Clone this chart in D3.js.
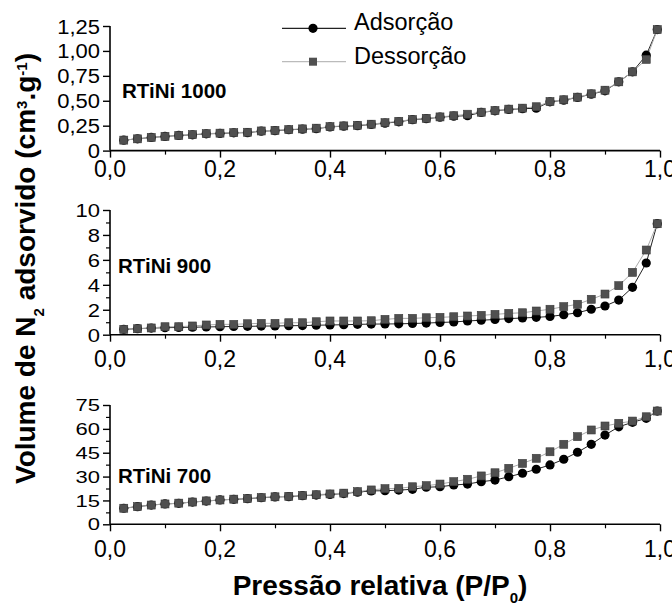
<!DOCTYPE html>
<html><head><meta charset="utf-8">
<script src="https://cdn.jsdelivr.net/npm/d3@7"></script>
<style>body{margin:0;background:#fff}svg{display:block}</style>
</head><body><div id="chart"></div>
<script>
// ---- data ----
const pressure = [0.025,0.05,0.075,0.1,0.125,0.15,0.175,0.2,0.225,0.25,
  0.275,0.3,0.325,0.35,0.375,0.4,0.425,0.45,0.475,0.5,
  0.525,0.55,0.575,0.6,0.625,0.65,0.675,0.7,0.725,0.75,
  0.775,0.8,0.825,0.85,0.875,0.9,0.925,0.95,0.975,0.995];
const ads1000 = [0.105,0.118,0.132,0.142,0.152,0.158,0.168,0.172,0.178,0.180,
  0.195,0.200,0.209,0.215,0.220,0.238,0.245,0.250,0.262,0.275,
  0.289,0.310,0.320,0.335,0.345,0.350,0.383,0.399,0.413,0.420,
  0.425,0.489,0.506,0.533,0.566,0.600,0.690,0.790,0.957,1.214];
const des1000 = [0.105,0.118,0.132,0.142,0.152,0.160,0.170,0.175,0.180,0.184,
  0.197,0.203,0.211,0.218,0.225,0.240,0.248,0.254,0.265,0.280,
  0.294,0.312,0.324,0.338,0.350,0.365,0.385,0.402,0.416,0.426,
  0.440,0.492,0.510,0.536,0.570,0.606,0.690,0.790,0.915,1.214];
const ads900 = [0.43,0.48,0.53,0.56,0.58,0.60,0.62,0.64,0.66,0.67,
  0.69,0.70,0.72,0.73,0.76,0.78,0.80,0.83,0.85,0.86,
  0.87,0.90,0.93,0.98,1.02,1.10,1.16,1.22,1.29,1.34,
  1.39,1.46,1.60,1.76,2.04,2.30,2.78,3.80,5.75,8.90];
const des900 = [0.43,0.48,0.54,0.64,0.64,0.70,0.78,0.83,0.83,0.88,
  0.91,0.91,0.96,0.96,1.04,1.10,1.10,1.10,1.12,1.23,
  1.31,1.31,1.36,1.39,1.44,1.50,1.55,1.63,1.71,1.76,
  1.90,2.04,2.25,2.44,2.84,3.26,3.93,5.00,6.79,8.90];
const ads700 = [10.1,11.1,12.1,12.8,13.2,14.0,14.6,15.3,15.7,16.1,
  16.7,17.2,17.4,18.0,18.4,18.8,19.3,20.2,21.0,21.1,
  21.5,22.0,23.3,23.6,24.7,25.3,26.8,27.8,29.9,32.1,
  34.6,37.3,40.9,45.3,50.3,56.1,61.3,64.1,66.6,71.2];
const des700 = [10.1,11.1,12.1,12.8,13.3,14.0,14.7,15.3,15.8,16.2,
  16.8,17.3,17.6,18.1,18.6,19.1,19.6,20.5,21.6,22.4,
  22.6,23.6,24.3,25.3,26.8,28.3,30.4,32.4,35.2,38.3,
  41.5,45.6,50.3,55.1,59.3,61.8,63.5,64.9,67.6,71.2];
const samples = ["RTiNi 1000","RTiNi 900","RTiNi 700"];
const seriesNames = ["Adsorção","Dessorção"];
const xTicks = [0,0.2,0.4,0.6,0.8,1.0];
const xMinorTicks = [0.1,0.3,0.5,0.7,0.9];
const yTicks1000 = [0,0.25,0.5,0.75,1.0,1.25];
const yTicks900 = [0,2,4,6,8,10];
const yMinor900 = [1,3,5,7,9];
const yTicks700 = [0,15,30,45,60,75];
const yMinor700 = [7.5,22.5,37.5,52.5,67.5];

// ---- layout ----
const W = 672, H = 604;
const FONT = "'Liberation Sans', Arial, sans-serif";
const svg = d3.select("#chart").append("svg").attr("width", W).attr("height", H)
  .style("font-family", FONT);
const x = d3.scaleLinear().domain([0,1]).range([110,660]);
const fmtX = v => d3.format(".1f")(v).replace(".", ",");
const fmt2 = v => v === 0 ? "0" : d3.format(".2f")(v).replace(".", ",");
const fmt0 = v => String(v);

const panels = [
  {name: samples[0], ads: ads1000, des: des1000, top: 26, bottom: 150.6, max: 1.25,
   ticks: yTicks1000, minor: [], fmt: fmt2, xLabY: 177, sy: 0.95, lab: [122, 98]},
  {name: samples[1], ads: ads900, des: des900, top: 210, bottom: 334.7, max: 10,
   ticks: yTicks900, minor: yMinor900, fmt: fmt0, xLabY: 366.5, sy: 0.86, lab: [118, 273]},
  {name: samples[2], ads: ads700, des: des700, top: 405, bottom: 524.3, max: 75,
   ticks: yTicks700, minor: yMinor700, fmt: fmt0, xLabY: 557, sy: 0.78, lab: [118, 483]}
];

const sqSize = 8, cr = 4.6;
const adsColor = "#000", desColor = "#505050";

panels.forEach(p => {
  const y = d3.scaleLinear().domain([0, p.max]).range([p.bottom, p.top]);
  const g = svg.append("g");
  // x axis
  const xa = g.append("g").attr("transform", `translate(0,${p.bottom})`)
    .call(d3.axisBottom(x).tickValues(xTicks).tickSize(7).tickFormat(""));
  xa.select(".domain").attr("stroke-width", 1.6).attr("d", `M110,0H660`);
  xa.selectAll(".tick line").attr("stroke-width", 1.4);
  g.append("g").attr("transform", `translate(0,${p.bottom})`)
    .call(d3.axisBottom(x).tickValues(xMinorTicks).tickSize(4).tickFormat(""))
    .call(s => s.select(".domain").remove())
    .selectAll(".tick line").attr("stroke-width", 1.2);
  g.selectAll(".xl").data(xTicks).join("text")
    .attr("x", d => x(d)).attr("y", p.xLabY)
    .attr("text-anchor", "middle").attr("font-size", 23).attr("fill", "#000")
    .text(fmtX);
  // y axis
  const ya = g.append("g").attr("transform", `translate(110,0)`)
    .call(d3.axisLeft(y).tickValues(p.ticks).tickSize(7).tickFormat(""));
  ya.select(".domain").attr("stroke-width", 1.6).attr("d", `M0,${p.bottom}V${p.top}`);
  ya.selectAll(".tick line").attr("stroke-width", 1.4);
  if (p.minor.length) {
    g.append("g").attr("transform", `translate(110,0)`)
      .call(d3.axisLeft(y).tickValues(p.minor).tickSize(4).tickFormat(""))
      .call(s => s.select(".domain").remove())
      .selectAll(".tick line").attr("stroke-width", 1.2);
  }
  g.selectAll(".yl").data(p.ticks).join("text")
    .attr("transform", d => `translate(100,${y(d)}) scale(1,${p.sy})`)
    .attr("dy", "0.36em")
    .attr("text-anchor", "end").attr("font-size", 22).attr("fill", "#000")
    .text(p.fmt);
  // panel label
  g.append("text").attr("x", p.lab[0]).attr("y", p.lab[1])
    .attr("font-size", 20.5).attr("font-weight", "bold").text(p.name);
  // lines
  const pts = arr => arr.map((v, i) => [pressure[i], v]);
  const line = d3.line().x(d => x(d[0])).y(d => y(d[1]));
  g.append("path").attr("d", line(pts(p.ads))).attr("fill", "none")
    .attr("stroke", "#222").attr("stroke-width", 1);
  g.append("path").attr("d", line(pts(p.des))).attr("fill", "none")
    .attr("stroke", "#aaa").attr("stroke-width", 1);
  g.selectAll(".ca").data(pts(p.ads)).join("circle")
    .attr("cx", d => x(d[0])).attr("cy", d => y(d[1])).attr("r", cr).attr("fill", adsColor);
  g.selectAll(".sd").data(pts(p.des)).join("rect")
    .attr("x", d => x(d[0]) - sqSize/2).attr("y", d => y(d[1]) - sqSize/2)
    .attr("width", sqSize).attr("height", sqSize)
    .attr("fill", desColor).attr("stroke", "#3a3a3a").attr("stroke-width", 0.6);
});

// legend
const lg = svg.append("g");
[[28.3, 30, "#222", "circle"], [61.7, 63.5, "#bbb", "rect"]].forEach((r, i) => {
  lg.append("line").attr("x1", 282).attr("x2", 346).attr("y1", r[0]).attr("y2", r[0])
    .attr("stroke", r[2]).attr("stroke-width", 1.2);
  if (r[3] === "circle") {
    lg.append("circle").attr("cx", 313).attr("cy", r[0]).attr("r", cr).attr("fill", adsColor);
  } else {
    lg.append("rect").attr("x", 313 - sqSize/2).attr("y", r[0] - sqSize/2)
      .attr("width", sqSize).attr("height", sqSize).attr("fill", desColor);
  }
  lg.append("text").attr("x", 354).attr("y", r[1]).attr("font-size", 23.5)
    .attr("fill", "#000").text(seriesNames[i]);
});

// axis titles
svg.append("text").attr("x", 380).attr("y", 595).attr("text-anchor", "middle")
  .attr("font-size", 28).attr("font-weight", "bold")
  .html('Pressão relativa (P/P<tspan dy="8" font-size="15">0</tspan><tspan dy="-8">)</tspan>');
svg.append("text").attr("transform", "translate(35,268.5) rotate(-90)")
  .attr("text-anchor", "middle").attr("font-size", 28).attr("font-weight", "bold")
  .html('Volume de N<tspan dy="9" font-size="15">2</tspan><tspan dy="-9"> adsorvido (cm</tspan><tspan dy="-8" font-size="15">3</tspan><tspan dy="8">.g</tspan><tspan dy="-8" font-size="15">-1</tspan><tspan dy="8">)</tspan>');
</script>
</body></html>
